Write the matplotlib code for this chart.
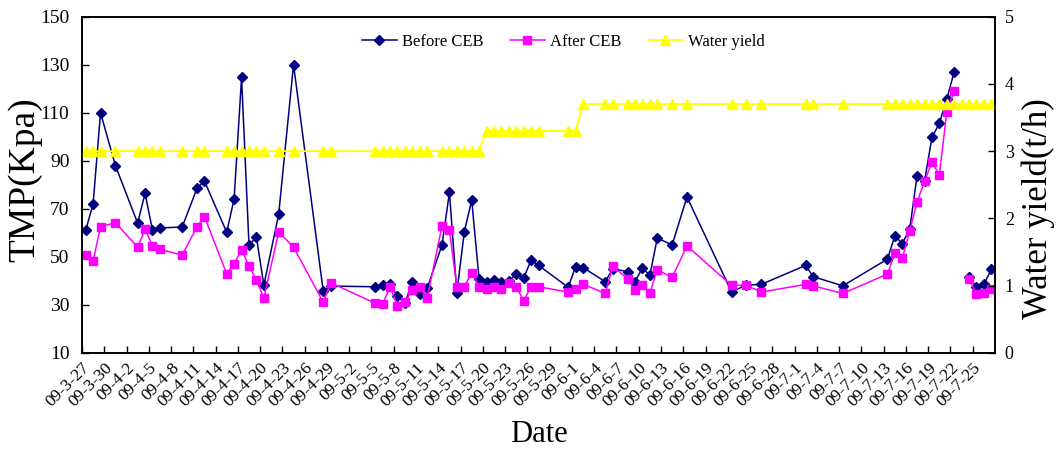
import pandas as pd
import numpy as np
import matplotlib
matplotlib.use('Agg')
import matplotlib.pyplot as plt

plt.rcParams['font.family'] = ['Liberation Serif', 'DejaVu Serif']

# sampling dates (2009), TMP before / after CEB and water yield
dates = ['03-27', '03-28', '03-29', '03-31', '04-03', '04-04', '04-05', '04-06', '04-09', '04-11',
         '04-12', '04-15', '04-16', '04-17', '04-18', '04-19', '04-20', '04-22', '04-24', '04-28',
         '04-29',
         '05-05', '05-06', '05-07', '05-08', '05-09', '05-10', '05-11', '05-12', '05-14', '05-15',
         '05-16', '05-17', '05-18', '05-19', '05-20', '05-21', '05-22', '05-23', '05-24', '05-25',
         '05-26', '05-27', '05-31',
         '06-01', '06-02', '06-05', '06-06', '06-08', '06-09', '06-10', '06-11', '06-12', '06-14',
         '06-16', '06-22', '06-24', '06-26',
         '07-02', '07-03', '07-07', '07-13', '07-14', '07-15', '07-16', '07-17', '07-18', '07-19',
         '07-20', '07-21', '07-22', '07-23', '07-24', '07-25', '07-26', '07-27']

before_ceb = [61, 72, 110, 88, 64, 76.4, 61, 62, 62.4, 78.5,
              81.5, 60.2, 74.2, 124.7, 54.9, 58.2, 38.2, 67.7, 130, 35.7,
              37.8,
              37.5, 38.3, 38.5, 33.6, 30.6, 39.3, 34.5, 36.8, 54.9, 76.8,
              35, 60.3, 73.6, 40.6, 39.5, 40.3, 39.5, 40, 42.7, 41.1,
              48.6, 46.4, 37.3,
              45.9, 45.5, 39.6, 45, 43.8, 39.6, 45.4, 42.2, 57.8, 54.9,
              74.9, 35.4, 38.2, 38.5,
              46.4, 41.7, 37.9, 49, 58.7, 55.5, 61.4, 83.8, 81.4, 99.7,
              105.6, 115.7, 127, np.nan, 41.4, 37.4, 38.5, 44.7]

after_ceb = [50.7, 48.2, 62.5, 64.2, 54, 61.4, 54.6, 53.1, 50.7, 62.5,
             66.7, 42.9, 47.1, 52.9, 46.1, 40.3, 32.9, 60.3, 54, 31.1,
             39.2,
             30.6, 30.2, 37.5, 29.5, 31.1, 36.1, 37.2, 32.8, 62.8, 61.1,
             37.5, 37.5, 43.3, 37.5, 36.5, 37.5, 36.4, 39.2, 37.5, 31.7,
             37.5, 37.5, 35.3,
             36.7, 38.6, 34.7, 46.1, 40.8, 36, 38.1, 34.9, 44.6, 41.4,
             54.5, 38.1, 38.1, 35.3,
             38.5, 37.9, 34.7, 42.8, 51.4, 49.3, 60.7, 72.8, 81.4, 89.3,
             84.2, 110.3, 119.2, np.nan, 40.8, 34.3, 34.7, 36.4]

water_yield = [3.0, 3.0, 3.0, 3.0, 3.0, 3.0, 3.0, 3.0, 3.0, 3.0,
               3.0, 3.0, 3.0, 3.0, 3.0, 3.0, 3.0, 3.0, 3.0, 3.0,
               3.0,
               3.0, 3.0, 3.0, 3.0, 3.0, 3.0, 3.0, 3.0, 3.0, 3.0,
               3.0, 3.0, 3.0, 3.0, 3.3, 3.3, 3.3, 3.3, 3.3, 3.3,
               3.3, 3.3, 3.3,
               3.3, 3.7, 3.7, 3.7, 3.7, 3.7, 3.7, 3.7, 3.7, 3.7,
               3.7, 3.7, 3.7, 3.7,
               3.7, 3.7, 3.7, 3.7, 3.7, 3.7, 3.7, 3.7, 3.7, 3.7,
               3.7, 3.7, 3.7, 3.7, 3.7, 3.7, 3.7, 3.7]

start = pd.Timestamp('2009-03-27')
days = (pd.to_datetime(['2009-' + d for d in dates]) - start).days.values
# each day sits in the middle of its own slot on the date axis
x = days + 0.5

fig = plt.figure(figsize=(10.59, 4.5), dpi=100)
ax = fig.add_axes([0.0774, 0.216, 0.8622, 0.747])
ax2 = ax.twinx()

l1, = ax.plot(x, before_ceb, color='#000080', lw=1.1, marker='D', ms=5.5,
              mfc='#000080', mec='#000080', label='Before CEB')
l2, = ax.plot(x, after_ceb, color='#FF00FF', lw=1.1, marker='s', ms=6,
              mfc='#FF00FF', mec='#FF00FF', label='After CEB')
l3, = ax2.plot(x, water_yield, color='#FFFF00', lw=1.3, marker='^', ms=7,
               mfc='#FFFF00', mec='#FFFF00', label='Water yield')

ax.set_xlim(0, 123)
ax.set_ylim(10, 150)
ax.set_yticks(np.arange(10, 151, 20))
ax2.set_ylim(0, 5)
ax2.set_yticks(np.arange(0, 6, 1))

tick_dates = pd.date_range(start, '2009-07-25', freq='3D')
tick_pos = (tick_dates - start).days.values
ax.set_xticks(tick_pos)
ax.set_xticklabels([f'09-{d.month}-{d.day}' for d in tick_dates], rotation=45,
                   ha='right', va='top', rotation_mode='anchor', fontsize=12.5)

ax.tick_params(axis='x', direction='in', length=5, width=1, pad=5)
ax.tick_params(axis='y', direction='in', length=5, width=1, labelsize=14, pad=9)
ax2.tick_params(axis='y', direction='in', length=5, width=1, labelsize=13, pad=7)

for a in (ax, ax2):
    for s in a.spines.values():
        s.set_linewidth(1.2)

ax.set_xlabel('Date', fontsize=22)
ax.xaxis.set_label_coords(0.5, -0.243)
ax.xaxis.label.set_va('center')

ax.set_ylabel('TMP(Kpa)', fontsize=27)
ax.yaxis.set_label_coords(-0.0624, 0.514)
ax.yaxis.label.set_va('center')

ax2.set_ylabel('Water yield(t/h)', fontsize=25)
ax2.yaxis.set_label_coords(1.0471, 0.43)
ax2.yaxis.label.set_va('center')

fig.legend(handles=[l1, l2, l3], loc='center', bbox_to_anchor=(563 / 1059, 0.907),
           ncol=3, frameon=False, fontsize=12, handlelength=2.1, columnspacing=1.6,
           handletextpad=0.3)

fig.savefig('out.png', dpi=100)
